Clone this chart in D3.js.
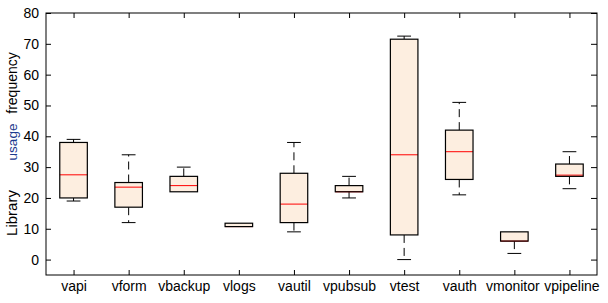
<!DOCTYPE html>
<html>
<head>
<meta charset="utf-8">
<script src="https://cdn.jsdelivr.net/npm/d3@7"></script>
<style>
  body { margin: 0; background: #fff; }
  svg { display: block; font-family: "Liberation Sans", Arial, sans-serif; }
</style>
</head>
<body>
<div class="container"></div>
<script>
// values
const categories = ['vapi', 'vform', 'vbackup', 'vlogs', 'vautil', 'vpubsub', 'vtest', 'vauth', 'vmonitor', 'vpipeline'];
const whiskerLow = [19, 12, 22, 10.7, 9, 20, 0, 21, 2, 23];
const q1 = [20, 17, 22, 10.7, 12, 22, 8, 26, 6, 27];
const medians = [27.5, 23.5, 24, 10.7, 18, 22, 34, 35, 6, 27.4];
const q3 = [38, 25, 27, 11.8, 28, 24, 71.5, 42, 9, 31];
const whiskerHigh = [39, 34, 30, 11.8, 38, 27, 72.5, 51, 9, 35];
const yTicks = [0, 10, 20, 30, 40, 50, 60, 70, 80];

const width = 608, height = 303;
const axL = 46, axR = 597, axT = 13, axB = 275;

const boxes = categories.map((c, i) => ({
    name: c, pos: i + 1,
    lo: whiskerLow[i], q1: q1[i], med: medians[i], q3: q3[i], hi: whiskerHigh[i]
}));

const svg = d3.select('.container')
    .append('svg')
    .attr('width', width)
    .attr('height', height);

const x = d3.scaleLinear().domain([0.5, 10.5]).range([axL, axR]);
const y = d3.scaleLinear().domain([-5, 80]).range([axB, axT]);

const boxW = 0.5, capW = 0.25;

const g = svg.append('g');

const box = g.selectAll('g.box')
    .data(boxes)
    .join('g')
    .attr('class', 'box');

// dashed whiskers
box.append('line')
    .attr('x1', d => x(d.pos)).attr('x2', d => x(d.pos))
    .attr('y1', d => y(d.q3)).attr('y2', d => y(d.hi))
    .attr('stroke', '#000').attr('stroke-dasharray', '8,5');
box.append('line')
    .attr('x1', d => x(d.pos)).attr('x2', d => x(d.pos))
    .attr('y1', d => y(d.q1)).attr('y2', d => y(d.lo))
    .attr('stroke', '#000').attr('stroke-dasharray', '8,5');

// caps (only when whisker extends past box)
box.filter(d => d.hi > d.q3).append('line')
    .attr('x1', d => x(d.pos - capW / 2)).attr('x2', d => x(d.pos + capW / 2))
    .attr('y1', d => y(d.hi)).attr('y2', d => y(d.hi))
    .attr('stroke', '#000');
box.filter(d => d.lo < d.q1).append('line')
    .attr('x1', d => x(d.pos - capW / 2)).attr('x2', d => x(d.pos + capW / 2))
    .attr('y1', d => y(d.lo)).attr('y2', d => y(d.lo))
    .attr('stroke', '#000');

box.append('rect')
    .attr('x', d => x(d.pos - boxW / 2))
    .attr('width', d => x(d.pos + boxW / 2) - x(d.pos - boxW / 2))
    .attr('y', d => y(d.q3))
    .attr('height', d => y(d.q1) - y(d.q3))
    .attr('fill', '#fdeee0');

box.append('line')
    .attr('x1', d => x(d.pos - boxW / 2)).attr('x2', d => x(d.pos + boxW / 2))
    .attr('y1', d => y(d.med)).attr('y2', d => y(d.med))
    .attr('stroke', '#ff0000');

box.append('rect')
    .attr('x', d => x(d.pos - boxW / 2))
    .attr('width', d => x(d.pos + boxW / 2) - x(d.pos - boxW / 2))
    .attr('y', d => y(d.q3))
    .attr('height', d => y(d.q1) - y(d.q3))
    .attr('fill', 'none')
    .attr('stroke', '#000')
    .attr('stroke-width', 1.2);

// axes, ticks pointing inward on all sides
const catTicks = boxes.map(d => d.pos);

svg.append('g')
    .attr('transform', `translate(0,${axB})`)
    .call(d3.axisBottom(x).tickValues(catTicks).tickFormat((d, i) => categories[i])
        .tickSizeInner(-5).tickSizeOuter(0).tickPadding(6));
svg.append('g')
    .attr('transform', `translate(0,${axT})`)
    .call(d3.axisTop(x).tickValues(catTicks).tickFormat('')
        .tickSizeInner(-5).tickSizeOuter(0));
svg.append('g')
    .attr('transform', `translate(${axL},0)`)
    .call(d3.axisLeft(y).tickValues(yTicks)
        .tickSizeInner(-5).tickSizeOuter(0).tickPadding(7));
svg.append('g')
    .attr('transform', `translate(${axR},0)`)
    .call(d3.axisRight(y).tickValues(yTicks).tickFormat('')
        .tickSizeInner(-6).tickSizeOuter(0));

svg.selectAll('.domain').remove();
svg.selectAll('.tick line').attr('stroke', '#000');
svg.selectAll('.tick text')
    .attr('font-family', '"Liberation Sans", Arial, sans-serif')
    .attr('font-size', 14)
    .attr('fill', '#000');

// keep the last two labels apart a little, as in the picture
svg.selectAll('.tick text')
    .filter((d, i, n) => n[i].textContent === 'vmonitor')
    .attr('dx', -2);
svg.selectAll('.tick text')
    .filter((d, i, n) => n[i].textContent === 'vpipeline')
    .attr('dx', 2);

svg.append('rect')
    .attr('x', axL).attr('y', axT)
    .attr('width', axR - axL).attr('height', axB - axT)
    .attr('fill', 'none').attr('stroke', '#000');

// y label in three parts, "usage" highlighted
const ylab = [
    {t: 'Library', cy: 213, size: 15, color: '#000'},
    {t: 'usage', cy: 142, size: 13.5, color: '#1c3a8e'},
    {t: 'frequency', cy: 83, size: 14, color: '#000'}
];
svg.selectAll('text.ylab')
    .data(ylab)
    .join('text')
    .attr('class', 'ylab')
    .attr('transform', d => `translate(17,${d.cy}) rotate(-90)`)
    .attr('text-anchor', 'middle')
    .attr('font-size', d => d.size)
    .attr('fill', d => d.color)
    .text(d => d.t);
</script>
</body>
</html>
